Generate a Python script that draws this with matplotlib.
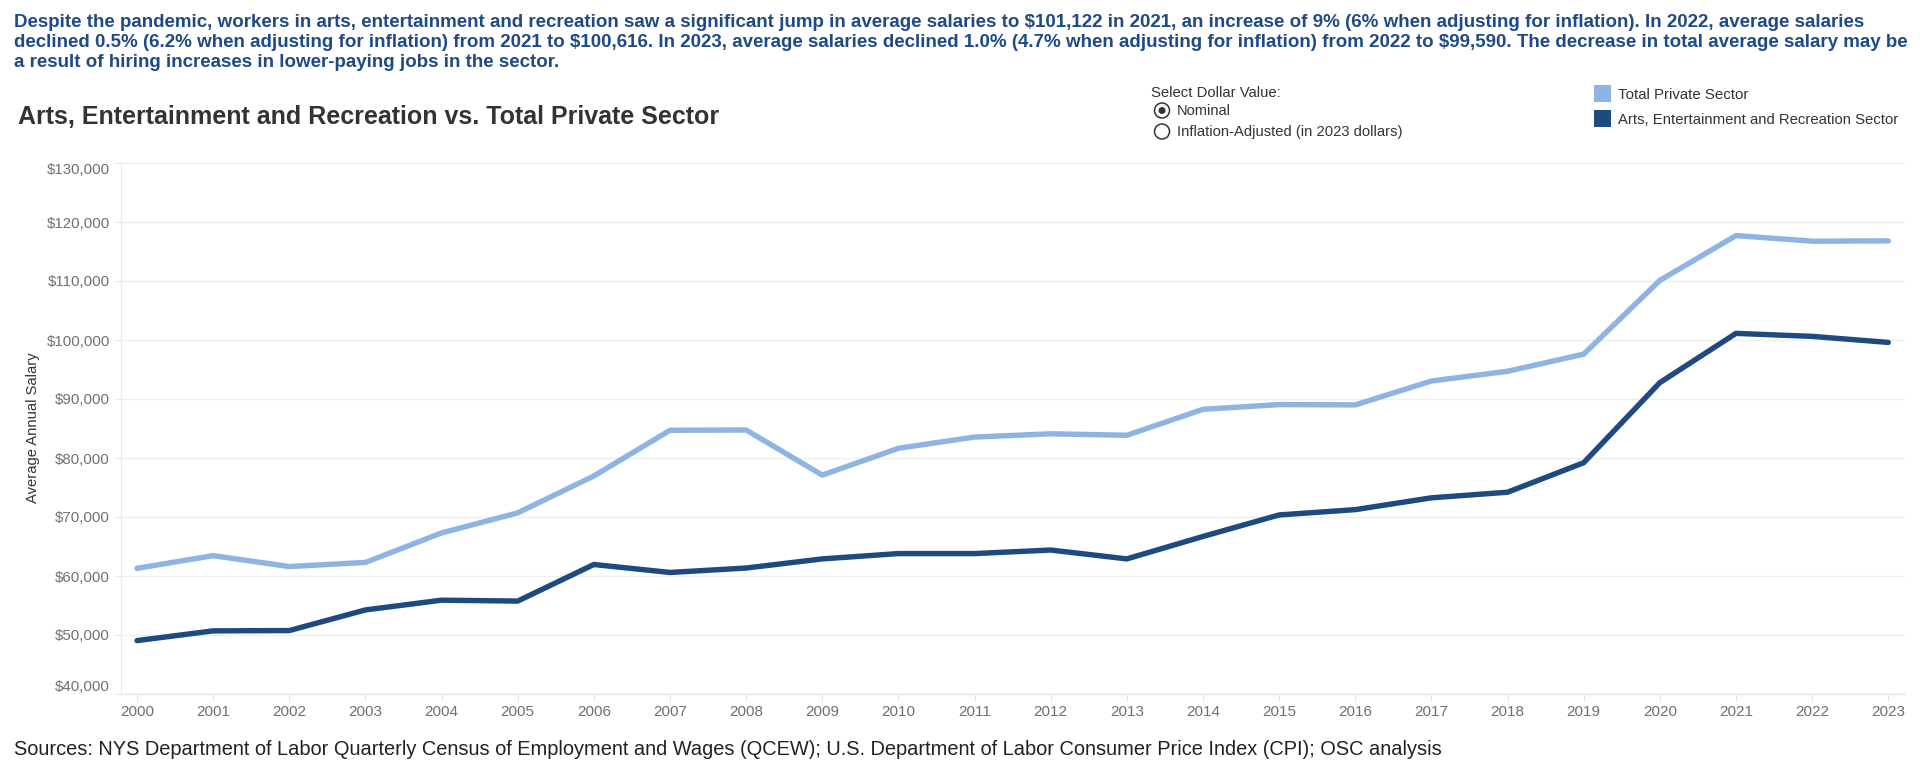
import matplotlib
matplotlib.use("Agg")
import matplotlib.pyplot as plt
from matplotlib.patches import Ellipse, Rectangle
from matplotlib.ticker import FuncFormatter

plt.rcParams['font.family'] = ['Liberation Sans', 'DejaVu Sans']
plt.rcParams['text.parse_math'] = False

# ---------------- data ----------------
years = list(range(2000, 2024))
total_private = [61300, 63450, 61600, 62300, 67300, 70700, 76950, 84700, 84750, 77100,
                 81650, 83550, 84100, 83850, 88250, 89050, 89000, 93050, 94700, 97600,
                 110100, 117700, 116750, 116800]
arts_sector = [49050, 50700, 50750, 54250, 55900, 55750, 61950, 60600, 61350, 62900,
               63800, 63800, 64400, 62900, 66700, 70350, 71250, 73250, 74200, 79200,
               92772, 101122, 100616, 99590]
y_ticks = list(range(40000, 130001, 10000))
series_names = ["Total Private Sector", "Arts, Entertainment and Recreation Sector"]

paragraph_lines = [
    "Despite the pandemic, workers in arts, entertainment and recreation saw a significant jump in average salaries to $101,122 in 2021, an increase of 9% (6% when adjusting for inflation). In 2022, average salaries",
    "declined 0.5% (6.2% when adjusting for inflation) from 2021 to $100,616. In 2023, average salaries declined 1.0% (4.7% when adjusting for inflation) from 2022 to $99,590. The decrease in total average salary may be",
    "a result of hiring increases in lower-paying jobs in the sector.",
]
title = "Arts, Entertainment and Recreation vs. Total Private Sector"
sources = "Sources: NYS Department of Labor Quarterly Census of Employment and Wages (QCEW); U.S. Department of Labor Consumer Price Index (CPI); OSC analysis"
y_label = "Average Annual Salary"
radio_title = "Select Dollar Value:"
radio_options = ["Nominal", "Inflation-Adjusted (in 2023 dollars)"]

# ---------------- styling ----------------
LIGHT = "#8db4e2"
DARK = "#1f4a80"
BLUE_TXT = "#1f4a87"
W, H = 1920, 769

fig = plt.figure(figsize=(W / 100, H / 100), dpi=100)
fig.patch.set_facecolor("white")


def fx(x):
    return x / W


def fy(y):
    return 1 - y / H


renderer = fig.canvas.get_renderer()


def fit(t, target_w):
    w = t.get_window_extent(renderer).width
    t.set_fontsize(t.get_fontsize() * target_w / w)
    return t


# axes
left, right, top, bottom = 121, 1905, 163, 694
ax = fig.add_axes([fx(left), fy(bottom), (right - left) / W, (bottom - top) / H])
ax.plot(years, total_private, color=LIGHT, lw=3.9, solid_capstyle="round",
        solid_joinstyle="round", zorder=3)
ax.plot(years, arts_sector, color=DARK, lw=3.9, solid_capstyle="round",
        solid_joinstyle="round", zorder=4)

ax.set_xlim(1999.79, 2023.22)
ax.set_ylim(40000, 130000)
ax.set_yticks(y_ticks)
ax.yaxis.set_major_formatter(FuncFormatter(lambda v, p: "${:,.0f}".format(v)))
ax.set_xticks(years)
ax.set_xticklabels([str(y) for y in years])
ax.grid(axis="y", color="#efefef", lw=1)
ax.set_axisbelow(True)
for s in ["top", "right"]:
    ax.spines[s].set_visible(False)
ax.spines["left"].set_color("#ececec")
ax.spines["bottom"].set_color("#e3e3e3")
ax.tick_params(axis="y", length=5, color="#ececec", labelsize=10.8,
               labelcolor="#707070", pad=3)
ax.tick_params(axis="x", length=5, color="#e3e3e3", labelsize=11,
               labelcolor="#707070", pad=3)
ylabels = ax.get_yticklabels()
ylabels[0].set_va("bottom")
ylabels[-1].set_va("top")

# y label
yl = fig.text(fx(33), fy(428), y_label, rotation=90, ha="center", va="center",
              color="#333333", fontsize=10)
fit_h = yl.get_window_extent(renderer).height
yl.set_fontsize(yl.get_fontsize() * 151.0 / fit_h)

# paragraph
baselines = [27, 47, 67]
para = []
for line, b in zip(paragraph_lines, baselines):
    t = fig.text(fx(13.5), fy(b), line, ha="left", va="baseline",
                 fontweight="bold", color=BLUE_TXT, fontsize=12)
    para.append(t)
fit(para[1], 1906 - 13.5)
for t in para:
    t.set_fontsize(para[1].get_fontsize())

# chart title
tt = fig.text(fx(18), fy(124), title, ha="left", va="baseline", fontweight="bold",
              color="#333333", fontsize=16)
fit(tt, 701)

# radio control
rt = fig.text(fx(1151), fy(97), radio_title, ha="left", va="baseline",
              color="#333333", fontsize=10)
fit(rt, 130)
r1 = fig.text(fx(1177), fy(115), radio_options[0], ha="left", va="baseline",
              color="#333333", fontsize=10)
fit(r1, 54)
r2 = fig.text(fx(1177), fy(136), radio_options[1], ha="left", va="baseline",
              color="#333333", fontsize=10)
fit(r2, 226)
for cy, filled in [(110.5, True), (131.5, False)]:
    fig.add_artist(Ellipse((fx(1162), fy(cy)), 15 / W, 15 / H, facecolor="white",
                           edgecolor="#333333", lw=1.1, transform=fig.transFigure))
    if filled:
        fig.add_artist(Ellipse((fx(1162), fy(cy)), 7 / W, 7 / H, facecolor="#333333",
                               edgecolor="none", transform=fig.transFigure))

# legend
for (y0, y1, col, name, tb, tw) in [(85, 102, LIGHT, series_names[0], 99, 130.5),
                                    (110, 127, DARK, series_names[1], 124, 281)]:
    fig.add_artist(Rectangle((fx(1594), fy(y1)), 17 / W, (y1 - y0) / H,
                             facecolor=col, edgecolor="none", transform=fig.transFigure))
    lt = fig.text(fx(1618), fy(tb), name, ha="left", va="baseline",
                  color="#333333", fontsize=10)
    fit(lt, tw)

# sources
st = fig.text(fx(13.5), fy(755), sources, ha="left", va="baseline",
              color="#222222", fontsize=13)
fit(st, 1428)

fig.savefig("out.png", dpi=100, facecolor="white")
